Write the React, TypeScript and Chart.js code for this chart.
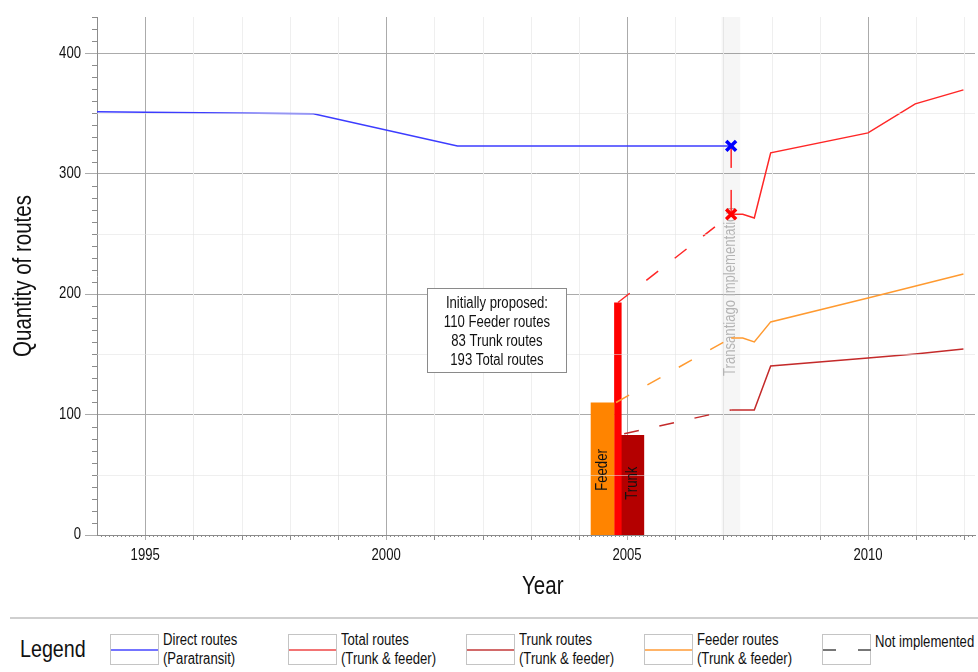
import React, { useEffect, useRef } from 'react';
import { Chart, registerables } from 'chart.js';

Chart.register(...registerables);

const FONT = "'Liberation Sans', Arial, sans-serif";
const NARROW = 0.82;

// ---- data ----
const xTickValues = [1995, 2000, 2005, 2010];
const yTickValues = [0, 100, 200, 300, 400];

// Direct routes (Paratransit)
const directYears = [1994, 1995, 1998.49, 2001.48, 2007.16];
const directValues = [351.3, 351, 349.6, 323, 323];

// Total routes (Trunk & feeder), implemented
const totalYears = [2007.16, 2007.4, 2007.64, 2007.98, 2010.0, 2010.98, 2011.98];
const totalValues = [266.3, 266.3, 263.2, 317.2, 333.8, 357.9, 369.5];

// Feeder routes, implemented
const feederYears = [2007.16, 2007.4, 2007.64, 2007.98, 2010.0, 2011.98];
const feederValues = [163.6, 163.6, 160.3, 176.9, 196.8, 216.7];

// Trunk routes, implemented
const trunkYears = [2007.16, 2007.64, 2007.98, 2010.0, 2010.98, 2011.98];
const trunkValues = [103.8, 103.8, 140.3, 147, 150.3, 154.4];

// Not implemented (dashed)
const totalPlanYears = [2004.81, 2007.16];
const totalPlanValues = [193, 266.3];
const feederPlanYears = [2004.77, 2007.16];
const feederPlanValues = [110, 163.6];
const trunkPlanYears = [2004.94, 2007.16];
const trunkPlanValues = [84, 103.8];
const gapYears = [2007.16, 2007.16];
const gapValues = [323, 266.3];

// Markers at Transantiago implementation
const markerYears = [2007.16, 2007.16];
const markerValues = [323, 266.3];

// Initially proposed bars
const barLabels = ['Feeder', 'Total', 'Trunk'];
const barValues = [110, 193, 83];
const barFrom = [2004.24, 2004.73, 2004.87];
const barTo = [2004.74, 2004.89, 2005.36];

// Transantiago implementation band
const bandFrom = 2006.96;
const bandTo = 2007.35;
const bandLabel = 'Transantiago implementation';

const noteLines = ['Initially proposed:', '110 Feeder routes', '83 Trunk routes', '193 Total routes'];

const xTitle = 'Year';
const yTitle = 'Quantity of routes';

const legendLabels = [
  ['Direct routes', '(Paratransit)'],
  ['Total routes', '(Trunk & feeder)'],
  ['Trunk routes', '(Trunk & feeder)'],
  ['Feeder routes', '(Trunk & feeder)'],
  ['Not implemented'],
];

// ---- styles ----
const C_BLUE = '#3c3cff';
const C_RED = '#ff2626';
const C_ORANGE = '#ff9a30';
const C_TRUNK = '#c42a2a';
const C_BAR = ['#ff8400', '#ff0000', '#b40000'];
const legendColors = ['#7474ff', '#f27474', '#d26a6a', '#ffb468', '#777777'];

const pts = (xs: number[], ys: number[]) => xs.map((x, i) => ({ x, y: ys[i] }));

const lineDs = (label: string, xs: number[], ys: number[], color: string, dash: number[] = []) => ({
  type: 'line' as const,
  label,
  data: pts(xs, ys),
  borderColor: color,
  borderWidth: 1.5,
  borderDash: dash,
  pointRadius: 0,
  tension: 0,
  fill: false,
});

const barDs = barLabels.map((lab, i) => ({
  type: 'line' as const,
  label: lab + ' proposed',
  data: [
    { x: barFrom[i], y: 0 },
    { x: barFrom[i], y: barValues[i] },
    { x: barTo[i], y: barValues[i] },
    { x: barTo[i], y: 0 },
  ],
  borderWidth: 0,
  borderColor: C_BAR[i],
  backgroundColor: C_BAR[i],
  pointRadius: 0,
  tension: 0,
  fill: 'origin',
}));

function narrowText(
  ctx: CanvasRenderingContext2D,
  text: string,
  x: number,
  y: number,
  size: number,
  align: CanvasTextAlign,
  color: string,
  rotate = false,
) {
  ctx.save();
  ctx.translate(x, y);
  if (rotate) ctx.rotate(-Math.PI / 2);
  ctx.scale(NARROW, 1);
  ctx.font = `${size}px ${FONT}`;
  ctx.fillStyle = color;
  ctx.textAlign = align;
  ctx.textBaseline = 'middle';
  ctx.fillText(text, 0, 0);
  ctx.restore();
}

const decorPlugin = {
  id: 'decor',
  beforeDatasetsDraw(chart: any) {
    const { ctx, chartArea: a, scales } = chart;
    const x = scales.x, y = scales.y;
    ctx.save();
    ctx.strokeStyle = '#efefef';
    ctx.lineWidth = 1;
    for (let yr = 1995; yr <= 2012; yr++) {
      if (yr % 5 === 0) continue;
      const px = Math.round(x.getPixelForValue(yr)) + 0.5;
      ctx.beginPath();
      ctx.moveTo(px, a.top);
      ctx.lineTo(px, a.bottom);
      ctx.stroke();
    }
    const b0 = x.getPixelForValue(bandFrom);
    const b1 = x.getPixelForValue(bandTo);
    ctx.fillStyle = 'rgba(0,0,0,0.035)';
    ctx.fillRect(b0, a.top, b1 - b0, a.bottom - a.top);
    ctx.restore();
    narrowText(ctx, bandLabel, (b0 + b1) / 2, y.getPixelForValue(202), 16, 'center', '#b4b4b4', true);
  },
  afterDatasetsDraw(chart: any) {
    const { ctx, chartArea: a, scales } = chart;
    const x = scales.x, y = scales.y;
    ctx.save();
    ctx.strokeStyle = 'rgba(225,225,225,0.55)';
    ctx.lineWidth = 1;
    for (let v = 50; v < 430; v += 100) {
      const py = Math.round(y.getPixelForValue(v)) + 0.5;
      ctx.beginPath();
      ctx.moveTo(a.left, py);
      ctx.lineTo(a.right, py);
      ctx.stroke();
    }
    ctx.restore();
    // bar labels
    narrowText(ctx, 'Feeder', x.getPixelForValue((barFrom[0] + barTo[0]) / 2), y.getPixelForValue(54), 16, 'center', '#111', true);
    narrowText(ctx, 'Trunk', x.getPixelForValue((barFrom[2] + barTo[2]) / 2), y.getPixelForValue(43), 16, 'center', '#111', true);
    // annotation box
    const cx = x.getPixelForValue(2002.3);
    const cy = y.getPixelForValue(170);
    const w = 139, h = 84;
    const left = Math.round(cx - w / 2) + 0.5;
    const top = Math.round(cy - h / 2) + 0.5;
    ctx.save();
    ctx.fillStyle = '#ffffff';
    ctx.fillRect(left, top, w, h);
    ctx.strokeStyle = '#8a8a8a';
    ctx.lineWidth = 1;
    ctx.strokeRect(left, top, w, h);
    ctx.restore();
    noteLines.forEach((t, i) => narrowText(ctx, t, cx, top + 15 + i * 19, 16, 'center', '#111'));
  },
  afterDraw(chart: any) {
    const { ctx, chartArea: a, scales } = chart;
    const x = scales.x, y = scales.y;
    ctx.save();
    ctx.strokeStyle = '#8c8c8c';
    ctx.lineWidth = 1;
    for (let v = 0; v <= 430; v += 10) {
      if (v % 100 === 0) continue;
      const py = Math.round(y.getPixelForValue(v)) + 0.5;
      ctx.beginPath();
      ctx.moveTo(a.left - 5, py);
      ctx.lineTo(a.left, py);
      ctx.stroke();
    }
    for (let m = 1994 * 12 + 1; m <= 2012 * 12 + 2; m++) {
      if (m % 60 === 0) continue;
      const px = Math.round(x.getPixelForValue(m / 12)) + 0.5;
      const len = m % 12 === 0 ? 5 : 2;
      ctx.beginPath();
      ctx.moveTo(px, a.bottom);
      ctx.lineTo(px, a.bottom + len);
      ctx.stroke();
    }
    ctx.restore();
    // tick labels
    yTickValues.forEach((v) => narrowText(ctx, String(v), a.left - 16, y.getPixelForValue(v), 16, 'right', '#111'));
    xTickValues.forEach((v) => narrowText(ctx, String(v), x.getPixelForValue(v), a.bottom + 21, 16, 'center', '#111'));
    // axis titles
    narrowText(ctx, xTitle, x.getPixelForValue(2003.25), a.bottom + 52, 25, 'center', '#111');
    narrowText(ctx, yTitle, 24, (a.top + a.bottom) / 2, 25, 'center', '#111', true);
  },
};

export default function App() {
  const ref = useRef<HTMLCanvasElement>(null);

  useEffect(() => {
    const datasets: any[] = [
      {
        type: 'line',
        label: 'Implementation markers',
        data: pts(markerYears, markerValues),
        showLine: false,
        pointStyle: 'crossRot',
        pointRadius: 7,
        pointBorderWidth: 3.5,
        pointBorderColor: ['#0000ff', '#ff0000'],
        pointBackgroundColor: ['#0000ff', '#ff0000'],
      },
      lineDs('Direct routes', directYears, directValues, C_BLUE),
      lineDs('Total routes', totalYears, totalValues, C_RED),
      lineDs('Feeder routes', feederYears, feederValues, C_ORANGE),
      lineDs('Trunk routes', trunkYears, trunkValues, C_TRUNK),
      lineDs('Total not implemented', totalPlanYears, totalPlanValues, C_RED, [15, 21]),
      lineDs('Feeder not implemented', feederPlanYears, feederPlanValues, C_ORANGE, [15, 21]),
      lineDs('Trunk not implemented', trunkPlanYears, trunkPlanValues, C_TRUNK, [15, 21]),
      lineDs('Gap', gapYears, gapValues, C_RED, [22, 22]),
      ...barDs,
    ];

    const chart = new Chart(ref.current as HTMLCanvasElement, {
      type: 'line',
      data: { datasets },
      plugins: [decorPlugin],
      options: {
        animation: false,
        responsive: false,
        devicePixelRatio: 1,
        layout: { autoPadding: false, padding: { top: 17, right: 3, left: 0, bottom: 0 } },
        plugins: { legend: { display: false }, tooltip: { enabled: false } },
        scales: {
          x: {
            type: 'linear',
            min: 1994,
            max: 2012.22,
            afterBuildTicks: (s: any) => {
              s.ticks = xTickValues.map((v) => ({ value: v }));
            },
            afterFit: (s: any) => {
              s.height = 75;
            },
            ticks: { display: false },
            grid: { color: '#ababab', tickLength: 5, lineWidth: 1 },
            border: { color: '#8c8c8c' },
            title: { display: false },
          },
          y: {
            type: 'linear',
            min: 0,
            max: 430,
            afterBuildTicks: (s: any) => {
              s.ticks = yTickValues.map((v) => ({ value: v }));
            },
            afterFit: (s: any) => {
              s.width = 97;
            },
            ticks: { display: false },
            grid: { color: '#ababab', tickLength: 12, lineWidth: 1 },
            border: { color: '#8c8c8c' },
            title: { display: false },
          },
        },
      } as any,
    });
    return () => chart.destroy();
  }, []);

  const itemLefts = [110, 288, 466, 644, 822];
  const narrowSpan: React.CSSProperties = {
    display: 'inline-block',
    transform: `scaleX(${NARROW})`,
    transformOrigin: 'left center',
    whiteSpace: 'nowrap',
  };

  return (
    <div
      style={{
        position: 'fixed',
        left: 0,
        top: 0,
        width: 978,
        height: 672,
        background: '#fff',
        fontFamily: FONT,
        color: '#111',
        overflow: 'hidden',
      }}
    >
      <canvas ref={ref} width={978} height={610} style={{ display: 'block', position: 'absolute', left: 0, top: 0 }} />
      <div style={{ position: 'absolute', left: 10, top: 617, width: 968, height: 2, background: '#cfcfcf' }} />
      <div style={{ position: 'absolute', left: 20, top: 634, fontSize: 24, lineHeight: '30px' }}>
        <span style={narrowSpan}>Legend</span>
      </div>
      {legendLabels.map((lines, i) => {
        const left = itemLefts[i];
        const dashed = i === 4;
        return (
          <React.Fragment key={i}>
            <div
              style={{
                position: 'absolute',
                left,
                top: 634,
                width: 47,
                height: 29,
                border: '1px solid #c4c4c4',
                boxSizing: 'content-box',
              }}
            >
              {dashed ? (
                <>
                  <div style={{ position: 'absolute', left: 0, top: 14, width: 13, height: 1.5, background: legendColors[i] }} />
                  <div style={{ position: 'absolute', left: 35, top: 14, width: 13, height: 1.5, background: legendColors[i] }} />
                </>
              ) : (
                <div style={{ position: 'absolute', left: 0, top: 14, width: 47, height: 2, background: legendColors[i] }} />
              )}
            </div>
            <div
              style={{
                position: 'absolute',
                left: left + 53,
                top: dashed ? 632 : 630,
                fontSize: 16,
                lineHeight: '19px',
              }}
            >
              {lines.map((l, j) => (
                <div key={j}>
                  <span style={narrowSpan}>{l}</span>
                </div>
              ))}
            </div>
          </React.Fragment>
        );
      })}
    </div>
  );
}
